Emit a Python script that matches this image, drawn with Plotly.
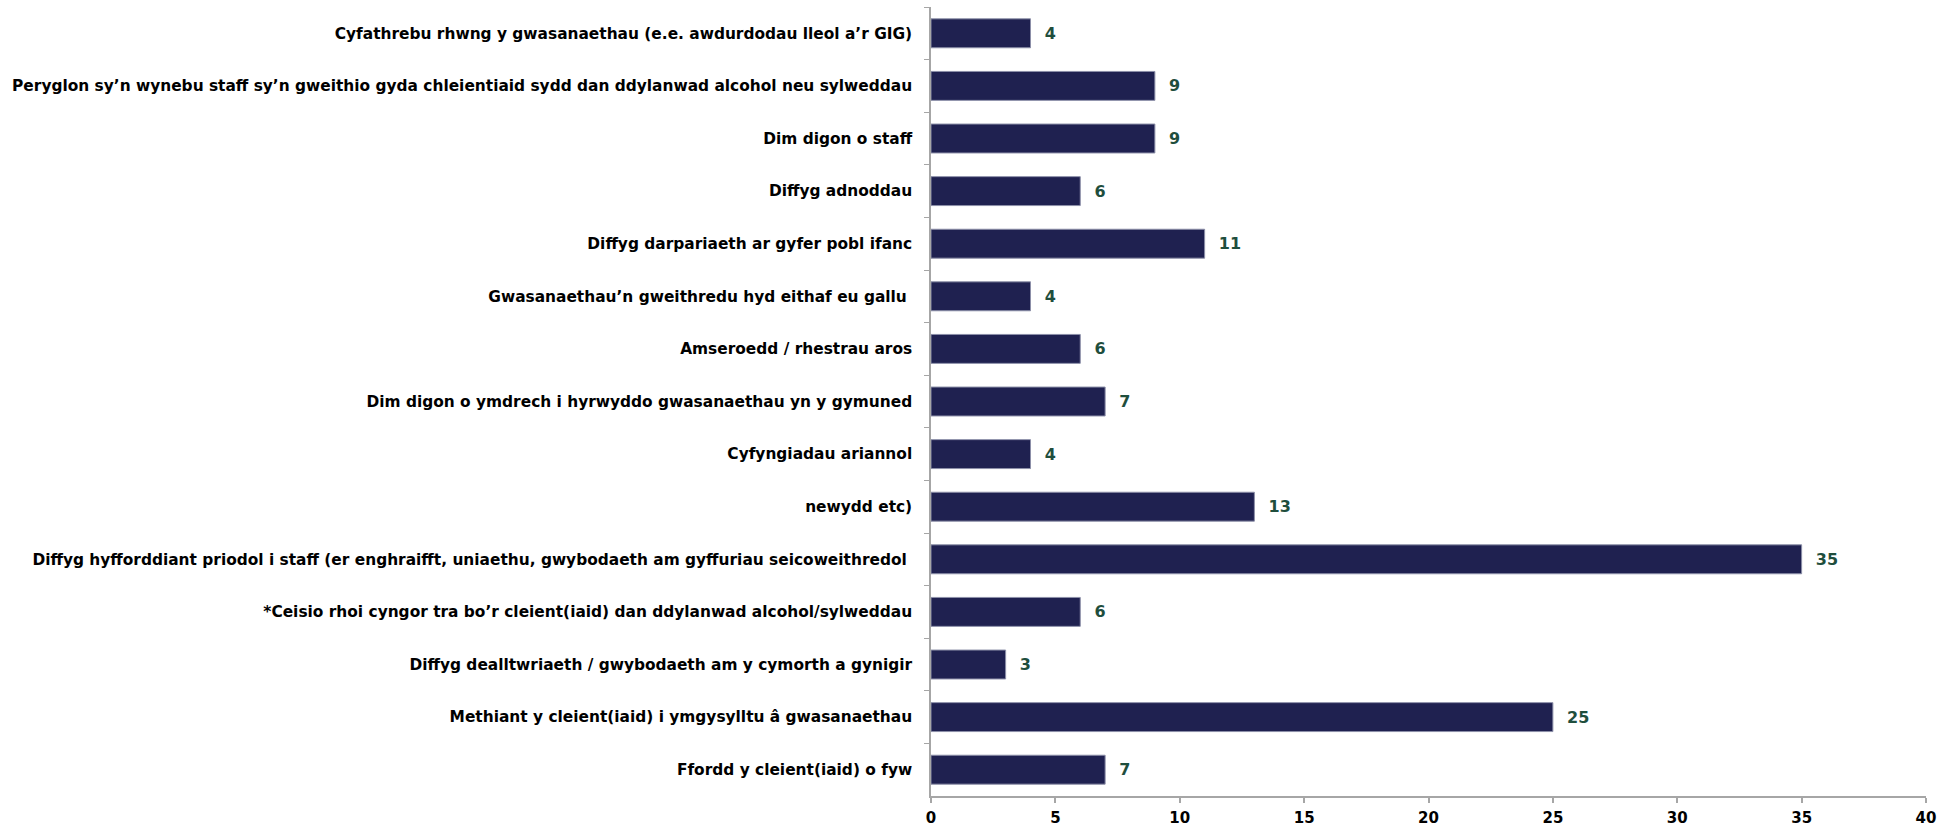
import plotly.graph_objects as go

categories = [
    "Cyfathrebu rhwng y gwasanaethau (e.e. awdurdodau lleol a’r GIG)",
    "Peryglon sy’n wynebu staff sy’n gweithio gyda chleientiaid sydd dan ddylanwad alcohol neu sylweddau",
    "Dim digon o staff",
    "Diffyg adnoddau",
    "Diffyg darpariaeth ar gyfer pobl ifanc",
    "Gwasanaethau’n gweithredu hyd eithaf eu gallu ",
    "Amseroedd / rhestrau aros",
    "Dim digon o ymdrech i hyrwyddo gwasanaethau yn y gymuned",
    "Cyfyngiadau ariannol",
    "newydd etc)",
    "Diffyg hyfforddiant priodol i staff (er enghraifft, uniaethu, gwybodaeth am gyffuriau seicoweithredol ",
    "*Ceisio rhoi cyngor tra bo’r cleient(iaid) dan ddylanwad alcohol/sylweddau",
    "Diffyg dealltwriaeth / gwybodaeth am y cymorth a gynigir",
    "Methiant y cleient(iaid) i ymgysylltu â gwasanaethau",
    "Ffordd y cleient(iaid) o fyw",
]
values = [4, 9, 9, 6, 11, 4, 6, 7, 4, 13, 35, 6, 3, 25, 7]
x_ticks = [0, 5, 10, 15, 20, 25, 30, 35, 40]

FONT = "DejaVu Sans"

fig = go.Figure(
    go.Bar(
        x=values,
        y=categories,
        orientation="h",
        marker=dict(color="#1F2150", line=dict(color="#8C8FA8", width=1)),
        text=values,
        texttemplate="\u00a0\u00a0%{x}",
        textposition="outside",
        cliponaxis=False,
        textfont=dict(family=FONT, size=16, color="#1F4E3D", weight="bold"),
        hoverinfo="skip",
    )
)

fig.update_layout(
    width=1959,
    height=828,
    margin=dict(l=931, r=33, t=7, b=32, autoexpand=False),
    paper_bgcolor="white",
    plot_bgcolor="white",
    bargap=0.45,
    showlegend=False,
    font=dict(family=FONT, color="black"),
)

fig.update_xaxes(
    range=[0, 40],
    tickvals=x_ticks,
    showgrid=False,
    zeroline=False,
    showline=True,
    linecolor="#A6A6A6",
    linewidth=2,
    ticks="outside",
    ticklen=5,
    tickcolor="#A6A6A6",
    tickwidth=1.5,
    ticklabelstandoff=2,
    tickfont=dict(family=FONT, size=15, color="black", weight="bold"),
)

fig.update_yaxes(
    categoryorder="array",
    categoryarray=categories,
    autorange="reversed",
    showgrid=False,
    showline=True,
    linecolor="#A6A6A6",
    linewidth=1.5,
    ticks="outside",
    ticklen=5,
    tickcolor="#A6A6A6",
    tickson="boundaries",
    ticklabelstandoff=14,
    tickfont=dict(family=FONT, size=15.4, color="black", weight="bold"),
)

fig.write_html(
    "out.html",
    config={"displayModeBar": False},
    post_script="document.body.style.margin='0';document.body.style.overflow='hidden';",
)
